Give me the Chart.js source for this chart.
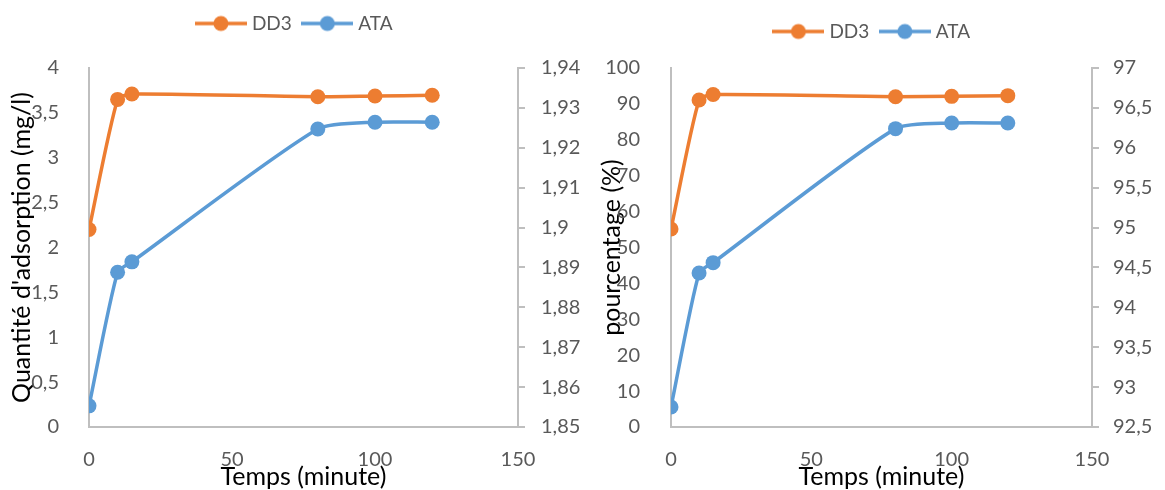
<!DOCTYPE html>
<html>
<head>
<meta charset="utf-8">
<script src="https://cdn.jsdelivr.net/npm/chart.js@4/dist/chart.umd.min.js"></script>
<style>
  html, body { margin: 0; padding: 0; background: #fff; }
  body { width: 1165px; height: 490px; position: relative; overflow: hidden; }
  .panel { position: absolute; top: 0; height: 490px; }
  #p1 { left: 0; width: 592px; }
  #p2 { left: 582px; width: 583px; }
</style>
</head>
<body>
<div class="panel" id="p1"><canvas id="c1"></canvas></div>
<div class="panel" id="p2"><canvas id="c2"></canvas></div>
<script>
// Contact time (minutes)
const temps = [0, 10, 15, 80, 100, 120];

// Adsorbed quantity (mg/l)
const qDD3 = [2.2, 3.65, 3.71, 3.68, 3.688, 3.696];
const qATA = [1.8553, 1.8888, 1.8914, 1.9247, 1.9264, 1.9264];

// Removal percentage (%)
const pDD3 = [55.15, 91.1, 92.6, 92.0, 92.1, 92.3];
const pATA = [92.75, 94.43, 94.56, 96.24, 96.31, 96.31];

// Axis ticks
const xTicks = [0, 50, 100, 150];
const qTicks = [0, 0.5, 1, 1.5, 2, 2.5, 3, 3.5, 4];
const qAtaTicks = [1.85, 1.86, 1.87, 1.88, 1.89, 1.9, 1.91, 1.92, 1.93, 1.94];
const pTicks = [0, 10, 20, 30, 40, 50, 60, 70, 80, 90, 100];
const pAtaTicks = [92.5, 93, 93.5, 94, 94.5, 95, 95.5, 96, 96.5, 97];

const ORANGE = '#ED7D31';
const BLUE = '#5B9BD5';
const AXIS = '#BFBFBF';
const TICK_COLOR = '#595959';
const FONT = 'Lato, "Open Sans", sans-serif';

const fr = v => String(v).replace('.', ',');

// Legend swatch: short line with a circle marker
function swatch(color) {
  const c = document.createElement('canvas');
  c.width = 52; c.height = 18;
  const g = c.getContext('2d');
  g.strokeStyle = color; g.lineWidth = 3.5;
  g.beginPath(); g.moveTo(0, 9); g.lineTo(52, 9); g.stroke();
  g.fillStyle = color;
  g.beginPath(); g.arc(26, 9, 7.5, 0, Math.PI * 2); g.fill();
  return c;
}

function fixedTicks(list) {
  return scale => { scale.ticks = list.map(v => ({ value: v })); };
}

// Sets the legend block height so the plot area starts at a fixed line
function legendHeight(h) {
  return {
    id: 'legendHeight',
    beforeInit(chart) {
      const fit = chart.legend.fit;
      chart.legend.fit = function () { fit.call(this); this.height = h; };
    }
  };
}

function lineSet(label, xs, ys, color, axis) {
  return {
    label,
    data: xs.map((x, i) => ({ x, y: ys[i] })),
    yAxisID: axis,
    borderColor: color,
    backgroundColor: color,
    borderWidth: 3.5,
    pointRadius: 7.5,
    pointHoverRadius: 7.5,
    pointBorderWidth: 0,
    pointBackgroundColor: color,
    tension: 0.22,
    fill: false
  };
}

function makeChart(id, cfg) {
  const tickFont = { family: FONT, size: 20 };
  const titleFont = { family: FONT, size: 25 };
  return new Chart(document.getElementById(id), {
    type: 'line',
    data: {
      datasets: [
        lineSet('DD3', temps, cfg.dd3, ORANGE, 'y'),
        lineSet('ATA', temps, cfg.ata, BLUE, 'y2')
      ]
    },
    options: {
      responsive: true,
      maintainAspectRatio: false,
      animation: false,
      events: [],
      layout: { padding: { top: cfg.padTop, left: 0, right: 0, bottom: 0 } },
      plugins: {
        tooltip: { enabled: false },
        legend: {
          position: 'top',
          labels: {
            usePointStyle: true,
            pointStyleWidth: 43,
            padding: 14,
            color: TICK_COLOR,
            font: { family: FONT, size: 19 },
            generateLabels: chart => chart.data.datasets.map((d, i) => ({
              text: d.label,
              pointStyle: swatch(d.borderColor),
              fillStyle: d.borderColor,
              strokeStyle: d.borderColor,
              lineWidth: 0,
              hidden: false,
              datasetIndex: i,
              fontColor: TICK_COLOR
            }))
          }
        }
      },
      scales: {
        x: {
          type: 'linear',
          position: 'bottom',
          min: 0, max: 150,
          afterBuildTicks: fixedTicks(xTicks),
          afterFit: s => { s.height = 63; },
          grid: { display: false },
          border: { display: true, color: AXIS, width: 2 },
          ticks: { color: TICK_COLOR, font: tickFont, padding: 13, callback: v => fr(v) },
          title: {
            display: true, text: 'Temps (minute)', color: '#000',
            font: titleFont, padding: { top: 0, bottom: -2 }
          }
        },
        y: {
          position: 'left',
          min: cfg.yMin, max: cfg.yMax,
          afterBuildTicks: fixedTicks(cfg.yTicks),
          afterFit: s => { s.width = cfg.leftW; },
          grid: { display: false },
          border: { display: true, color: AXIS, width: 2 },
          ticks: { color: TICK_COLOR, font: tickFont, padding: cfg.leftPad, callback: v => fr(v) },
          title: {
            display: true, text: cfg.yTitle, color: '#000',
            font: titleFont, padding: { top: cfg.titlePad, bottom: 0 }
          }
        },
        y2: {
          position: 'right',
          min: cfg.y2Min, max: cfg.y2Max,
          afterBuildTicks: fixedTicks(cfg.y2Ticks),
          afterFit: s => { s.width = cfg.rightW; },
          grid: { display: true, drawOnChartArea: false, drawTicks: true, tickLength: 7, color: AXIS, lineWidth: 2 },
          border: { display: true, color: AXIS, width: 2 },
          ticks: { color: TICK_COLOR, font: tickFont, padding: cfg.rightPad, callback: v => fr(v) }
        }
      }
    },
    plugins: [legendHeight(cfg.legendH)]
  });
}

makeChart('c1', {
  dd3: qDD3, ata: qATA,
  yMin: 0, yMax: 4, yTicks: qTicks,
  y2Min: 1.85, y2Max: 1.94, y2Ticks: qAtaTicks,
  leftW: 89, rightW: 74, leftPad: 22, rightPad: 16,
  padTop: 0, legendH: 68, titlePad: 7,
  yTitle: "Quantité d'adsorption (mg/l)"
});

makeChart('c2', {
  dd3: pDD3, ata: pATA,
  yMin: 0, yMax: 100, yTicks: pTicks,
  y2Min: 92.5, y2Max: 97, y2Ticks: pAtaTicks,
  leftW: 89, rightW: 73, leftPad: 23, rightPad: 14,
  padTop: 8, legendH: 60, titlePad: 15,
  yTitle: 'pourcentage (%)'
});
</script>
</body>
</html>
